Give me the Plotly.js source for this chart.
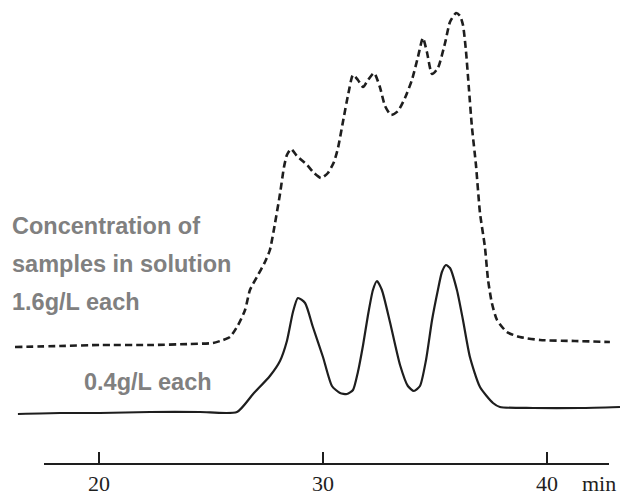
<!DOCTYPE html>
<html>
<head>
<meta charset="utf-8">
<script src="https://cdn.plot.ly/plotly-3.0.1.min.js"></script>
<style>html,body{margin:0;padding:0;background:#fff;}#chart{width:622px;height:496px;}</style>
</head>
<body>
<div id="chart"></div>
<script>
// Elution time (min) and detector response (arbitrary units)
const timeLow = [16.38,18.26,20.04,22.28,24.51,26.16,26.88,27.63,28.08,28.39,28.66,28.88,29.20,29.55,30.00,30.40,30.76,31.07,31.34,31.56,31.79,32.01,32.23,32.41,32.63,32.99,33.44,33.79,34.06,34.33,34.60,34.87,35.13,35.31,35.49,35.67,35.98,36.25,36.56,37.01,37.59,37.90,39.38,41.47,43.26];
const signalLow = [49,50,50,51,51,51,69,87,102,122,151,165,160,136,106,77,70,69,73,91,118,148,173,182,173,141,98,77,72,77,103,143,173,191,198,195,173,143,106,76,60,56,55,55,56];

const timeHigh = [16.25,18.26,20.04,22.28,24.06,25.09,25.54,25.85,26.21,26.52,26.74,27.05,27.41,27.63,27.86,28.08,28.26,28.39,28.57,28.84,29.29,29.60,29.91,30.22,30.49,30.67,30.89,31.12,31.34,31.56,31.79,32.01,32.28,32.54,32.77,33.04,33.35,33.66,33.97,34.24,34.46,34.64,34.87,35.13,35.45,35.67,35.94,36.12,36.25,36.38,36.52,36.65,36.83,37.01,37.23,37.37,37.54,37.77,38.21,38.79,39.69,41.25,42.81];
const signalHigh = [116,117,118,118,119,120,123,126,138,153,173,186,201,213,240,269,296,308,314,307,298,290,285,290,301,315,341,368,388,383,376,383,390,376,357,348,352,365,383,406,425,411,389,395,420,441,450,447,438,413,373,336,298,250,216,183,160,143,131,126,123,122,121];

const tickValues = [20, 30, 40];
const tickLabels = ["20", "30", "40"];
const axisUnit = "min";
const labelHigh = ["Concentration of", "samples in solution", "1.6g/L each"];
const labelLow = "0.4g/L each";

const ink = "#1e1e1e";
const grey = "#808080";
const sans = "Liberation Sans, Arial, sans-serif";
const serif = "Liberation Serif, Times New Roman, serif";

const traces = [
  {x: timeLow, y: signalLow, mode: "lines", type: "scatter",
   line: {color: ink, width: 2.2, shape: "spline", smoothing: 0.6}, hoverinfo: "skip"},
  {x: timeHigh, y: signalHigh, mode: "lines", type: "scatter",
   line: {color: ink, width: 2.6, dash: "7px,4px", shape: "spline", smoothing: 0.6}, hoverinfo: "skip"},
  {x: [], y: [], xaxis: "x2", yaxis: "y2", type: "scatter", mode: "lines", hoverinfo: "skip"}
];

const annotations = [];
const lineY = [226, 264, 302];
labelHigh.forEach((t, i) => annotations.push({
  xref: "paper", yref: "paper", x: 10/622, y: 1 - lineY[i]/496,
  xanchor: "left", yanchor: "middle", text: t, showarrow: false,
  font: {family: sans, size: 23.5, color: grey, weight: "bold"}
}));
annotations.push({
  xref: "paper", yref: "paper", x: 82/622, y: 1 - 382/496,
  xanchor: "left", yanchor: "middle", text: labelLow, showarrow: false,
  font: {family: sans, size: 23.5, color: grey, weight: "bold"}
});
annotations.push({
  xref: "paper", yref: "paper", x: 580/622, y: 1 - 483/496,
  xanchor: "left", yanchor: "middle", text: axisUnit, showarrow: false,
  font: {family: serif, size: 22, color: ink}
});

const layout = {
  width: 622, height: 496,
  margin: {l: 0, r: 0, t: 0, b: 0},
  paper_bgcolor: "#ffffff", plot_bgcolor: "rgba(0,0,0,0)",
  showlegend: false,
  xaxis: {domain: [0, 1], range: [15.58, 43.35], visible: false, anchor: "y"},
  yaxis: {domain: [0, 1], range: [-33, 463], visible: false, anchor: "x"},
  xaxis2: {domain: [43.6/622, 608.6/622], range: [17.527, 42.75], anchor: "y2",
    showline: true, linecolor: ink, linewidth: 2, ticks: "inside", ticklen: 11,
    tickwidth: 2, tickcolor: ink, tickvals: tickValues, ticktext: tickLabels,
    tickfont: {family: serif, size: 22, color: ink}, showgrid: false, zeroline: false},
  yaxis2: {domain: [33/496, 0.5], range: [0, 1], visible: false, anchor: "x2"},
  annotations: annotations
};

Plotly.newPlot("chart", traces, layout, {staticPlot: true, displayModeBar: false});
</script>
</body>
</html>
